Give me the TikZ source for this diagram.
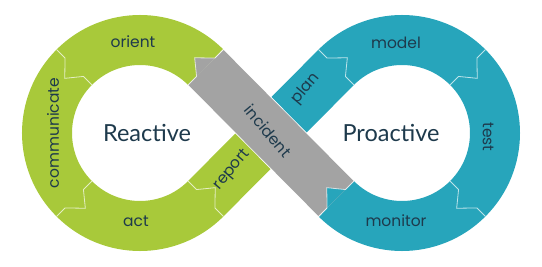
\documentclass[tikz,border=0pt]{standalone}
\usepackage{fontspec}
\setmainfont{Poppins}
\newfontfamily\bigfont{Lato}
\definecolor{lgreen}{HTML}{A8C93A}
\definecolor{lteal}{HTML}{27A5BB}
\definecolor{lgray}{HTML}{A3A3A3}
\definecolor{ink}{HTML}{1E3A4C}
\newcommand\chevline[3]{%
  \pgfmathsetmacro\chevtip{#2+9*#3}%
  \draw[sepline] ([shift={(#2:118)}]#1) -- ([shift={(#2:106)}]#1)
    -- ([shift={(\chevtip:93)}]#1) -- ([shift={(#2:80)}]#1)
    -- ([shift={(#2:68)}]#1);}
\begin{document}
\begin{tikzpicture}[x=1pt,y=1pt,
  band/.style={line width=50pt},
  sepline/.style={draw=white,opacity=0.7,line width=0.8pt,line join=miter},
  lbl/.style={text=ink,font=\fontsize{15.5}{18}\selectfont,inner sep=0pt},
  big/.style={text=ink,font=\bigfont\fontsize{23.5}{28}\selectfont,inner sep=0pt}]
\useasboundingbox (0,0) rectangle (542,266);
\coordinate (CL) at (140,133);
\coordinate (CR) at (402,133);
\coordinate (X) at (271,133);
% green loop
\draw[band,draw=lgreen] ([shift={(45:93)}]CL) arc[start angle=45,end angle=315,radius=93] -- (X);
% teal loop
\draw[band,draw=lteal] (X) -- ([shift={(135:93)}]CR) arc[start angle=135,end angle=-135,radius=93];
% gray strand with light edges
\draw[line width=51.2pt,white] ([shift={(225:93)}]CR) -- ([shift={(45:93)}]CL);
\draw[line width=49.6pt,lgray] ([shift={(225:93)}]CR) -- ([shift={(45:93)}]CL);
% arrow tip of incident into orient
\fill[lgray] ([shift={(45:106)}]CL) -- ([shift={(54:93)}]CL) -- ([shift={(45:80)}]CL) -- cycle;
% monitor tip into incident
\fill[lteal] ([shift={(225:106)}]CR) -- ([shift={(216:93)}]CR) -- ([shift={(225:80)}]CR) -- cycle;
% separators
\chevline{CL}{45}{1}
\chevline{CL}{135}{1}
\chevline{CL}{225}{1}
\chevline{CL}{315}{1}
\chevline{CR}{135}{-1}
\chevline{CR}{45}{-1}
\chevline{CR}{-45}{-1}
\chevline{CR}{225}{-1}
% labels
\node[lbl] (orient) at (133,224) {orient};
\node[lbl,rotate=90] (comm) at (53,133) {communicate};
\node[lbl] (act) at (136,45) {act};
\node[lbl,rotate=50] (report) at (232,96) {report};
\node[lbl,rotate=-50] (incident) at (268,135) {incident};
\node[lbl,rotate=50] (plan) at (306,177) {plan};
\node[lbl] (model) at (396,223) {model};
\node[lbl,rotate=-90] (test) at (488,129) {test};
\node[lbl] (monitor) at (396,45) {monitor};
\node[big] (reactive) at (147,133) {Reactive};
\node[big] (proactive) at (391,133) {Proactive};
\end{tikzpicture}
\end{document}
